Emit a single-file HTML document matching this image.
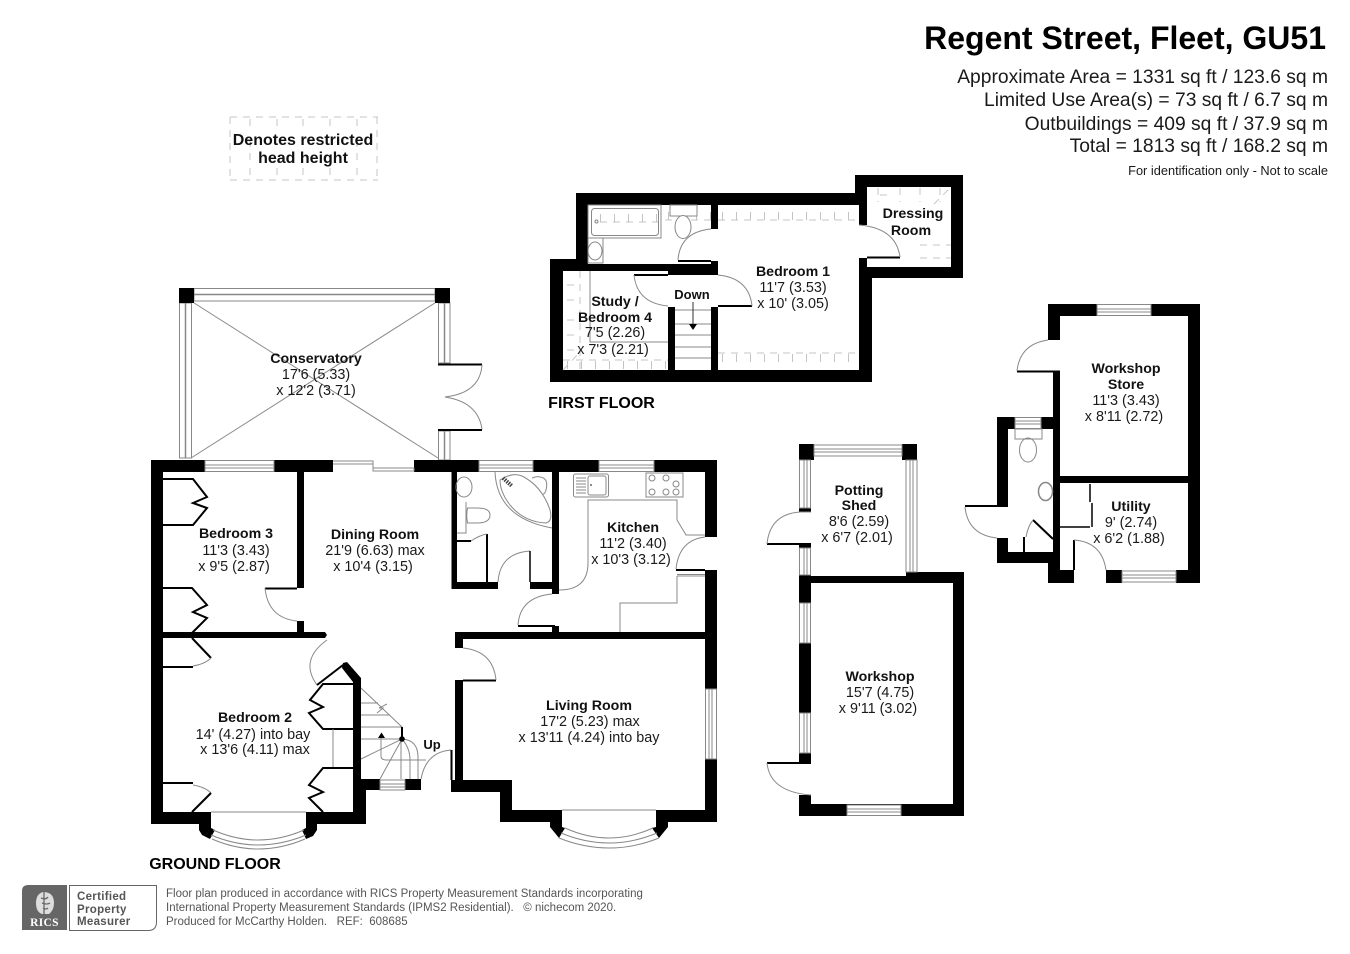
<!DOCTYPE html>
<html><head><meta charset="utf-8"><style>
html,body{margin:0;padding:0;background:#fff}
svg{display:block}
text{font-family:"Liberation Sans",sans-serif;fill:#1a1a1a;font-size:14.4px;text-anchor:middle;white-space:pre}
.b{font-weight:bold;fill:#111;font-size:14.2px}
.w{fill:#000;stroke:none}
.g{fill:none;stroke:#888;stroke-width:1}
.n{fill:#fff;stroke:#888;stroke-width:1}
.k{fill:none;stroke:#000;stroke-width:2}
.t{fill:none;stroke:#c4c4c4;stroke-width:1;stroke-dasharray:7 6}
.h{fill:none;stroke:#c4c4c4;stroke-width:8;stroke-dasharray:1 13}
</style></head><body>
<svg width="1350" height="954" viewBox="0 0 1350 954" xmlns="http://www.w3.org/2000/svg">
<rect width="1350" height="954" fill="#fff"/>

<!-- header -->
<text x="1326" y="49" class="b" style="font-size:32px;text-anchor:end;fill:#000">Regent Street, Fleet, GU51</text>
<text x="1328" y="83" style="font-size:19.25px;text-anchor:end">Approximate Area = 1331 sq ft / 123.6 sq m</text>
<text x="1328" y="106" style="font-size:19.25px;text-anchor:end">Limited Use Area(s) = 73 sq ft / 6.7 sq m</text>
<text x="1328" y="130" style="font-size:19.25px;text-anchor:end">Outbuildings = 409 sq ft / 37.9 sq m</text>
<text x="1328" y="152" style="font-size:19.25px;text-anchor:end">Total = 1813 sq ft / 168.2 sq m</text>
<text x="1328" y="175" style="font-size:12.8px;text-anchor:end">For identification only - Not to scale</text>

<!-- legend -->
<path class="t" d="M230 117H378M230 180H378M230 117V180M377 117V180M250 119V129M277 119V129M303 119V129M330 119V129M357 119V129M250 168V179M277 168V179M303 168V179M330 168V179M357 168V179M250 140V160M357 140V160"/>
<text x="303" y="145" class="b" style="font-size:16px">Denotes restricted</text>
<text x="303" y="163" class="b" style="font-size:16px">head height</text>

<!-- ====== CONSERVATORY ====== -->
<path class="g" d="M191 301L438 458M438 301L191 458"/>
<rect class="n" x="194" y="288.500" width="241" height="12.500"/>
<path class="g" style="stroke-width:1.500" d="M194 294.500H435"/>
<rect class="n" x="179.500" y="303" width="12" height="155"/>
<path class="g" style="stroke-width:1.500" d="M185.500 303V458"/>
<rect class="n" x="438.500" y="303" width="11.500" height="60"/>
<path class="g" style="stroke-width:1.500" d="M444.500 303V363"/>
<rect class="n" x="438.500" y="431" width="11.500" height="29"/>
<path class="g" style="stroke-width:1.500" d="M444.500 431V460"/>
<rect class="w" x="179" y="288" width="15" height="15"/>
<rect class="w" x="435" y="288" width="15" height="15"/>
<path class="k" d="M438 364.500H482M438 430H482"/>
<path class="g" d="M482 365Q480 393 445 397Q478 402 482 429"/>

<!-- ====== GROUND FLOOR WALLS ====== -->
<g class="w">
<rect x="151" y="460" width="54" height="12"/>
<rect x="274" y="460" width="59" height="12"/>
<rect x="414" y="460" width="65" height="12"/>
<rect x="533" y="460" width="66" height="12"/>
<rect x="654" y="460" width="63" height="12"/>
<rect x="151" y="460" width="12" height="364"/>
<rect x="151" y="812" width="60" height="12"/>
<rect x="306" y="812" width="60" height="12"/>
<rect x="297" y="472" width="7" height="116"/>
<rect x="297" y="621" width="7" height="12"/>
<path d="M163 632H325L327 635L325 638H163Z"/>
<rect x="353" y="680" width="8" height="132"/>
<rect x="361" y="779" width="5" height="45"/>
<rect x="361" y="779" width="19" height="11"/>
<rect x="405" y="779" width="16" height="11"/>
<path d="M343 663L347 662L361 678V682H353L342 668Z"/>
<rect x="455" y="680" width="8" height="100"/>
<rect x="455" y="632" width="8" height="16"/>
<rect x="455" y="632" width="262" height="7"/>
<rect x="451" y="780" width="61" height="12"/>
<rect x="500" y="780" width="12" height="42"/>
<rect x="500" y="810" width="62" height="12"/>
<rect x="656" y="810" width="61" height="12"/>
<rect x="705" y="460" width="12" height="77"/>
<rect x="705" y="570" width="12" height="119"/>
<rect x="705" y="759" width="12" height="63"/>
<rect x="451.500" y="472" width="5.500" height="117"/>
<rect x="451.500" y="582" width="46.500" height="7"/>
<rect x="530" y="582" width="29" height="7"/>
<rect x="552" y="472" width="7" height="122"/>
<rect x="552" y="626" width="7" height="6"/>
<path d="M550 822H562V827L565 828L559 838L550 827Z"/>
<path d="M668 822H656V827L652 828L659 838L668 827Z"/>
<path d="M199 824H211V828L215 830L210 839L202 835L199 830Z"/>
<path d="M317 824H306V828L302 830L306 839L313 836L317 830Z"/>
</g>
<!-- windows ground -->
<rect class="n" x="205" y="460.500" width="69" height="11"/><path class="g" d="M205 465H274M205 468H274"/>
<rect class="n" x="479" y="460.500" width="54" height="11"/><path class="g" d="M479 465H533M479 468H533"/>
<rect class="n" x="599" y="460.500" width="55" height="11"/><path class="g" d="M599 465H654M599 468H654"/>
<rect class="n" x="705.500" y="689" width="11" height="70"/><path class="g" d="M709 689V759M712 689V759"/>
<rect class="n" x="380" y="780" width="25" height="10"/><path class="g" d="M380 784H405M380 787H405"/>
<path class="g" d="M333 461H373V464H333M373 464V468H414V471H373V468"/>
<!-- bays -->
<path class="g" d="M562 810H656M211 812H306"/>
<path class="g" d="M565 828Q609 848 653 828M561 833Q609 853 657 833M559 838Q609 858 659 838"/>
<path class="g" d="M213 830Q258 850 304 830M211 835Q258 855 306 835M212 839Q258 859 305 839"/>

<!-- doors -->
<path class="k" d="M265 588.500H297"/>
<path class="g" d="M265 588Q268 618 297 621"/>
<path class="k" d="M463 680.500H496"/>
<path class="g" d="M463 648Q493 651 496 680"/>
<path class="k" d="M518 626H555"/>
<path class="g" d="M518 625Q520 597 552 594"/>
<path class="k" d="M676 570H705"/>
<path class="g" d="M676 569Q679 540 705 537M559 590Q588 590 588 563V500H677V520L686 535H705M677 576H705M677 574.500H705M677 576V603H620V632"/>
<path class="g" d="M327 640Q299 660 317 685"/>
<path d="M317 685L343 665" stroke="#000" stroke-width="2" fill="none"/>
<path class="g" d="M421 779Q426 752 451 750"/>
<path class="k" d="M451.500 750V780"/>

<!-- bedroom 3 wardrobes -->
<path class="k" d="M163 479H193L207 497L193 503L207 508L193 525H163"/>
<path class="k" d="M163 588H192L207 605L193 612L207 618L192 633"/>
<!-- bedroom 2 wardrobes -->
<path class="k" d="M192 638L211 658"/>
<path class="g" d="M211 658Q205 664 193 666"/>
<path class="k" d="M163 667H193"/>
<path class="k" d="M163 783H193"/>
<path class="g" d="M193 785Q205 787 211 793"/>
<path class="k" d="M211 793L192 812"/>
<path class="k" d="M353 684H323L310 700L323 707L309 713L323 729H353"/>
<path class="g" d="M333 729V768"/>
<path class="k" d="M353 768H323L309 785L323 792L309 798L323 812"/>

<!-- stairs -->
<path class="g" d="M361 688L402 727M361 703H378M361 715H390M361 727H402M361 739H402M361 759L402 739L380 779M401 739V779M387 704L379 708L383 708L377 713M402 739Q410 748 410 760V779M402 739Q418 740 418 757V779M381 738V756Q381 760 386 760H426"/>
<path class="k" d="M402 727V739"/>
<circle cx="402" cy="739" r="2.800" fill="#000"/>
<path d="M378 738H385L381.500 732.500Z" fill="#000"/>

<!-- bathroom ground -->
<path class="k" d="M457 541H471"/>
<path class="k" d="M487 534V582"/>
<path class="g" d="M471 541Q480 535 487 534M498 582Q500 553 530 551M457 533H466V502"/>
<path class="k" d="M530 551V582" style="stroke-width:1.500"/>
<ellipse class="g" cx="464" cy="487" rx="8" ry="10"/>
<path class="g" d="M467.500 508H477Q490 508 490 515Q490 523 477 523H467.500Q466 515 467.500 508Z"/>
<path class="g" d="M495 472Q497 518 552 528"/>
<path class="g" d="M500 480Q512 472 522 476Q542 486 550 510Q553 521 546 523Q524 522 510 505Q500 492 500 480ZM532 478Q537 476 540 477Q549 478 546 490Q545 494 543 494"/>
<path d="M503 478L512 486" stroke="#444" stroke-width="4" fill="none" stroke-dasharray="1.500 1"/>
<!-- kitchen fittings -->
<rect class="g" x="573.500" y="474" width="35" height="23" rx="2"/>
<rect class="g" x="588" y="476" width="18" height="19" rx="2"/>
<path class="g" d="M576 478H586M576 481H586M576 484H586M576 487H586M576 490H586M576 493H586"/>
<circle cx="591" cy="485" r="1" fill="#666"/>
<rect class="g" x="646" y="473" width="37" height="24"/>
<circle class="g" cx="652" cy="478" r="3"/><circle class="g" cx="666" cy="478" r="3"/><circle class="g" cx="676" cy="484" r="3"/>
<circle class="g" cx="652" cy="492" r="3"/><circle class="g" cx="666" cy="492" r="3"/><circle class="g" cx="676" cy="492" r="3"/>

<!-- ====== FIRST FLOOR ====== -->
<path d="M576 193H855V175H963V278H872V382H550V259H576Z" fill="#000"/>
<g fill="#fff">
<rect x="867" y="187" width="84" height="80"/>
<rect x="859" y="225" width="9" height="33"/>
<rect x="718" y="205" width="141" height="165"/>
<rect x="588" y="205" width="123" height="59"/>
<rect x="563" y="271" width="105" height="99"/>
<rect x="675" y="307" width="36" height="63"/>
<rect x="668" y="275" width="43" height="32"/>
<rect x="711" y="229" width="8" height="32"/>
<rect x="711" y="275" width="8" height="32"/>
</g>
<rect x="668" y="271" width="7" height="4" fill="#000"/>
<rect x="711" y="261" width="7" height="14" fill="#000"/>
<!-- restricted ticks -->
<path class="t" d="M718 220H858M600 220H711"/>
<path class="h" d="M722 216H858M598 216H711"/>
<path class="t" d="M718 353H859"/>
<path class="h" d="M722 358H858"/>
<path class="t" d="M563 360H668"/>
<path class="h" d="M567 365H668"/>
<path class="t" d="M567 285H578M567 300H578M567 320H578M567 335H578M567 350H578M920 245H951M920 258H951M880 195H890"/>
<path class="t" d="M580 271V370M878 188V202M900 188V202M920 188V202M940 188V202"/>
<path class="t" d="M563 370L580 352M934 204L951 187"/>
<!-- fittings -->
<rect class="g" x="588" y="205" width="73" height="33" fill="#fff" style="fill:#fff"/>
<rect class="g" x="591.500" y="208.500" width="67" height="27" rx="3"/>
<circle class="g" cx="596.500" cy="221.500" r="1.500"/>
<path class="t" d="M600 222H658"/>
<path class="h" d="M600 218H658"/>
<rect class="g" x="670" y="205" width="27" height="11" style="fill:#fff"/>
<ellipse class="g" cx="683" cy="227" rx="8" ry="11.500" style="fill:#fff"/>
<rect class="g" x="588" y="238" width="15" height="25"/>
<ellipse class="g" cx="595" cy="251" rx="7" ry="9"/>
<path class="g" d="M590 271V342H668"/>
<!-- doors first -->
<path class="k" d="M678 261H711"/>
<path class="g" d="M678 260Q680 232 711 229"/>
<path class="k" d="M634 275H668"/>
<path class="g" d="M634 275Q637 303 668 306"/>
<path class="k" d="M718 306H752"/>
<path class="g" d="M718 275Q749 278 752 306"/>
<path class="k" d="M867 257.500H900"/>
<path class="g" d="M859 225Q896 228 900 257"/>
<!-- stairs first -->
<path class="g" d="M675 310H711M675 324H711M675 335H711M675 347H711M675 358H711"/>
<path d="M693 302V325" stroke="#333" stroke-width="1" fill="none"/>
<path d="M689 324H697L693 330Z" fill="#000"/>

<!-- ====== POTTING SHED / WORKSHOP ====== -->
<g class="w">
<rect x="799" y="444" width="15" height="16"/>
<rect x="902" y="444" width="15" height="16"/>
<rect x="799" y="508" width="12" height="4"/>
<rect x="799" y="544" width="12" height="4"/>
<path d="M799 575H811V576H906V572H964V816H799V795H811V804H953V583H811V603H799Z"/>
<rect x="799" y="643" width="12" height="70"/>
<rect x="799" y="753" width="12" height="9"/>
</g>
<rect class="n" x="814" y="445" width="88" height="11"/><path class="g" d="M814 449H902M814 452H902"/>
<rect class="n" x="799.500" y="460" width="11" height="48"/><path class="g" d="M804 460V508M807 460V508"/>
<rect class="n" x="799.500" y="548" width="11" height="27"/><path class="g" d="M804 548V575M807 548V575"/>
<rect class="n" x="906" y="460" width="11" height="112"/><path class="g" d="M910 460V572M913 460V572"/>
<rect class="n" x="799.500" y="603" width="11" height="40"/><path class="g" d="M804 603V643M807 603V643"/>
<rect class="n" x="799.500" y="713" width="11" height="40"/><path class="g" d="M804 713V753M807 713V753"/>
<rect class="n" x="847" y="805" width="54" height="10.500"/><path class="g" d="M847 809H901M847 812H901"/>
<path class="k" d="M767 544H811M767 763H811"/>
<path class="g" d="M767 544Q770 514 800 512H811M767 763Q770 792 811 795"/>

<!-- ====== WORKSHOP STORE / WC / UTILITY ====== -->
<g class="w">
<rect x="1048" y="304" width="49" height="12"/>
<rect x="1151" y="304" width="49" height="12"/>
<rect x="1188" y="304" width="12" height="279"/>
<rect x="1048" y="304" width="12" height="36"/>
<rect x="1053" y="372" width="7" height="198"/>
<rect x="1060" y="476" width="128" height="7"/>
<rect x="1048" y="570" width="26" height="13"/>
<rect x="1106" y="570" width="16" height="13"/>
<rect x="1176" y="570" width="24" height="13"/>
<rect x="997" y="417" width="18" height="12"/>
<rect x="1041" y="417" width="12" height="12"/>
<rect x="997" y="417" width="11" height="89"/>
<rect x="997" y="538" width="11" height="25"/>
<rect x="997" y="552" width="56" height="11"/>
<rect x="1048" y="552" width="5" height="31"/>
</g>
<rect class="n" x="1097" y="304.500" width="54" height="11"/><path class="g" d="M1097 309H1151M1097 312H1151"/>
<rect class="n" x="1122" y="571" width="54" height="11"/><path class="g" d="M1122 575H1176M1122 578H1176"/>
<rect class="n" x="1015" y="417.500" width="26" height="11"/><path class="g" d="M1015 421H1041M1015 424H1041"/>
<path class="k" d="M1017 371.500H1060"/>
<path class="g" d="M1048 340Q1020 344 1017 371"/>
<path class="k" d="M965 506H1008"/>
<path class="g" d="M965 507Q968 535 997 538"/>
<path class="k" d="M1074 540V570"/>
<path class="g" d="M1074 540Q1102 542 1106 570"/>
<path class="k" d="M1033 520L1053 539M1024 537V552"/>
<path class="g" d="M1033 520Q1028 526 1026 537"/>
<path class="k" d="M1060 527H1090M1090 484V502M1092 503V527" style="stroke-width:1.500"/>
<rect class="g" x="1015" y="429" width="27" height="10"/>
<ellipse class="g" cx="1028" cy="450" rx="8.500" ry="12"/>
<ellipse class="g" cx="1045.500" cy="491.500" rx="7" ry="9" style="stroke-width:1.500"/>

<!-- ====== LABELS ====== -->
<text x="316" y="363" class="b">Conservatory</text><text x="316" y="379">17'6 (5.33)</text><text x="316" y="395">x 12'2 (3.71)</text>
<text x="236" y="538" class="b">Bedroom 3</text><text x="236" y="555">11'3 (3.43)</text><text x="234" y="571">x 9'5 (2.87)</text>
<text x="375" y="539" class="b">Dining Room</text><text x="375" y="555">21'9 (6.63) max</text><text x="373" y="571">x 10'4 (3.15)</text>
<text x="633" y="532" class="b">Kitchen</text><text x="633" y="548">11'2 (3.40)</text><text x="631" y="564">x 10'3 (3.12)</text>
<text x="589" y="710" class="b">Living Room</text><text x="590" y="726">17'2 (5.23) max</text><text x="589" y="742">x 13'11 (4.24) into bay</text>
<text x="255" y="722" class="b">Bedroom 2</text><text x="253" y="739">14' (4.27) into bay</text><text x="255" y="754">x 13'6 (4.11) max</text>
<text x="432" y="749" class="b" style="font-size:13px">Up</text>
<text x="615" y="306" class="b">Study /</text><text x="615" y="322" class="b">Bedroom 4</text><text x="615" y="337">7'5 (2.26)</text><text x="613" y="354">x 7'3 (2.21)</text>
<text x="692" y="299" class="b" style="font-size:13px">Down</text>
<text x="793" y="276" class="b">Bedroom 1</text><text x="793" y="292">11'7 (3.53)</text><text x="793" y="308">x 10' (3.05)</text>
<text x="913" y="218" class="b">Dressing</text><text x="911" y="235" class="b">Room</text>
<text x="1126" y="373" class="b">Workshop</text><text x="1126" y="389" class="b">Store</text><text x="1126" y="405">11'3 (3.43)</text><text x="1124" y="421">x 8'11 (2.72)</text>
<text x="1131" y="511" class="b">Utility</text><text x="1131" y="527">9' (2.74)</text><text x="1129" y="543">x 6'2 (1.88)</text>
<text x="859" y="495" class="b">Potting</text><text x="859" y="510" class="b">Shed</text><text x="859" y="526">8'6 (2.59)</text><text x="857" y="542">x 6'7 (2.01)</text>
<text x="880" y="681" class="b">Workshop</text><text x="880" y="697">15'7 (4.75)</text><text x="878" y="713">x 9'11 (3.02)</text>
<text x="215" y="869" class="b" style="font-size:16px;fill:#000">GROUND FLOOR</text>
<text x="601.500" y="408" class="b" style="font-size:16px;fill:#000">FIRST FLOOR</text>

<!-- ====== FOOTER ====== -->
<path d="M28 885H67V930H22V891Q22 885 28 885Z" fill="#666"/>
<path d="M43 892Q54 892 54 903Q54 910 49 914H42Q36 912 36 903Q36 894 43 892Z" fill="#ddd"/>
<path d="M41 898Q46 900 48 897M42 903Q47 905 50 903M43 908Q46 910 48 908M44 892V914" fill="none" stroke="#666" stroke-width="1.300"/>
<text x="44.500" y="926" class="b" style="font-size:11.500px;fill:#fff;font-family:'Liberation Serif',serif;letter-spacing:.3px">RICS</text>
<path d="M69.500 885.500H156.500V922Q156.500 930.500 148 930.500H69.500Z" fill="#fff" stroke="#666" stroke-width="1"/>
<text x="77" y="900" class="b" style="font-size:11.500px;text-anchor:start;fill:#555;letter-spacing:.3px">Certified</text>
<text x="77" y="913" class="b" style="font-size:11.500px;text-anchor:start;fill:#555;letter-spacing:.3px">Property</text>
<text x="77" y="925" class="b" style="font-size:11.500px;text-anchor:start;fill:#555;letter-spacing:.3px">Measurer</text>
<text x="166" y="897" style="font-size:11.500px;text-anchor:start;fill:#555">Floor plan produced in accordance with RICS Property Measurement Standards incorporating</text>
<text x="166" y="911" style="font-size:11.500px;text-anchor:start;fill:#555">International Property Measurement Standards (IPMS2 Residential).   © nichecom 2020.</text>
<text x="166" y="925" style="font-size:11.500px;text-anchor:start;fill:#555">Produced for McCarthy Holden.   REF:  608685</text>
</svg>
</body></html>
